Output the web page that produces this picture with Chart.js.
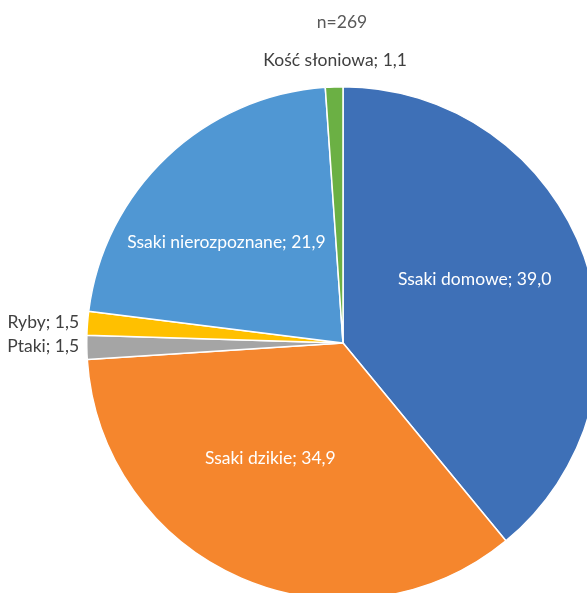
<!DOCTYPE html>
<html>
<head>
<meta charset="utf-8">
<script src="https://cdn.jsdelivr.net/npm/chart.js@4/dist/chart.umd.min.js"></script>
<style>
  html, body { margin: 0; padding: 0; background: #fff; overflow: hidden; }
  #wrap { position: relative; width: 587px; height: 593px; overflow: hidden; }
  #c { position: absolute; left: 0; top: 0; }
</style>
</head>
<body>
<div id="wrap"><canvas id="c" width="620" height="620"></canvas></div>
<script>
// Shares of finds by material group (%), n = 269
const categories = ['Ssaki domowe', 'Ssaki dzikie', 'Ptaki', 'Ryby', 'Ssaki nierozpoznane', 'Kość słoniowa'];
const shares = [39.0, 34.9, 1.5, 1.5, 21.9, 1.1];
const sampleSize = 269;

const colors = ['#3E70B7', '#F5862D', '#A5A5A5', '#FFC000', '#5097D3', '#6BB044'];

// Label anchor per slice: angle (deg, clockwise from top), distance as a fraction of radius, alignment
const labelPlacement = [
  { angle: 64.3, dist: 0.570, align: 'center', color: '#ffffff' },
  { angle: 212.3, dist: 0.531, align: 'center', color: '#ffffff' },
  { angle: 269.3, dist: 1.03, align: 'right', color: '#404040' },
  { angle: 274.4, dist: 1.03, align: 'right', color: '#404040' },
  { angle: 310.9, dist: 0.602, align: 'center', color: '#ffffff' },
  { angle: 358.4, dist: 1.103, align: 'center', color: '#404040' }
];

const fmt = v => v.toFixed(1).replace('.', ',');
const FONT = '17.5px Lato, "Liberation Sans", sans-serif';

const sliceLabels = {
  id: 'sliceLabels',
  afterDatasetsDraw(chart) {
    const ctx = chart.ctx;
    const arcs = chart.getDatasetMeta(0).data;
    ctx.save();
    ctx.font = FONT;
    ctx.textBaseline = 'middle';
    arcs.forEach((arc, i) => {
      const p = labelPlacement[i];
      const a = p.angle * Math.PI / 180;
      const r = arc.outerRadius * p.dist;
      let x = arc.x + r * Math.sin(a);
      const y = arc.y - r * Math.cos(a);
      if (p.align === 'right') x = arc.x - r;
      ctx.fillStyle = p.color;
      ctx.textAlign = p.align;
      ctx.fillText(categories[i] + '; ' + fmt(shares[i]), x, y);
    });
    // sample size caption above the pie
    ctx.fillStyle = '#595959';
    ctx.textAlign = 'center';
    ctx.fillText('n=' + sampleSize, arcs[0].x - 1, 22);
    ctx.restore();
  }
};

new Chart(document.getElementById('c'), {
  type: 'pie',
  data: {
    labels: categories,
    datasets: [{
      data: shares,
      backgroundColor: colors,
      borderColor: '#ffffff',
      borderWidth: 1.5
    }]
  },
  options: {
    responsive: false,
    animation: false,
    layout: { padding: { left: 86, top: 86, right: 20, bottom: 20 } },
    plugins: {
      legend: { display: false },
      tooltip: { enabled: false }
    }
  },
  plugins: [sliceLabels]
});
</script>
</body>
</html>
